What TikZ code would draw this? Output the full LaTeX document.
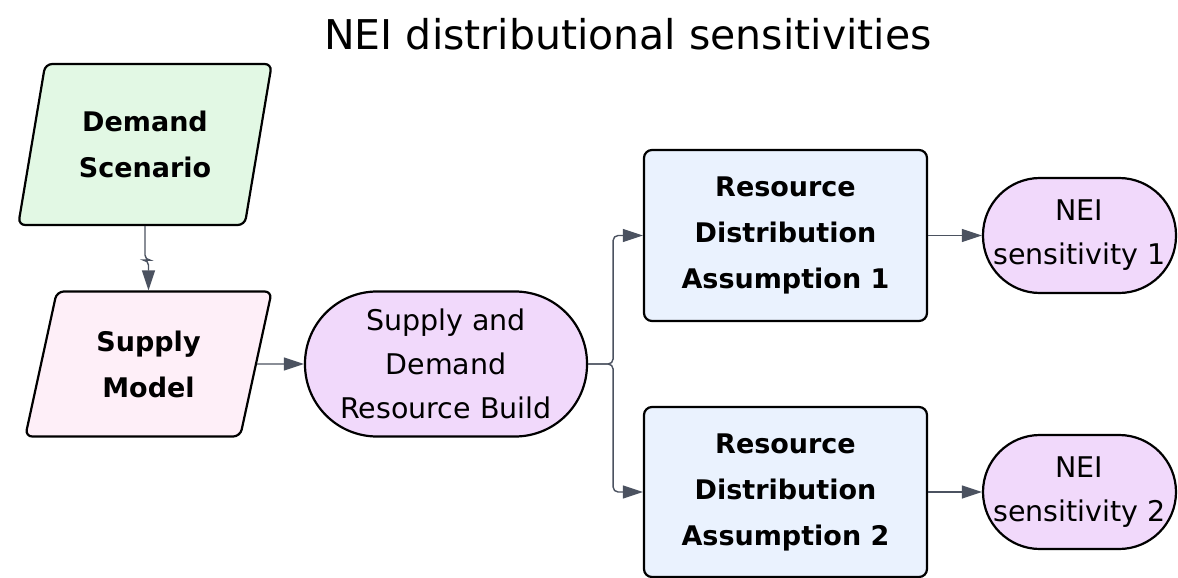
\documentclass[tikz,border=0pt]{standalone}
\usepackage{fontspec}
\setmainfont{DejaVu Sans}
\usetikzlibrary{shapes.geometric,arrows.meta}

\definecolor{scenfill}{HTML}{E2F8E4}
\definecolor{supfill}{HTML}{FEEFF8}
\definecolor{buildfill}{HTML}{F1D9FB}
\definecolor{assfill}{HTML}{EAF2FE}
\definecolor{linkcol}{HTML}{4B5260}

\tikzset{
  base/.style={draw=black, line width=2.2pt, align=center, inner sep=0pt},
  slant/.style={base, trapezium, trapezium left angle=75, trapezium right angle=105,
    trapezium stretches=true, rounded corners=7pt,
    font=\fontsize{27}{46}\selectfont\bfseries},
  pill/.style={base, rectangle, fill=buildfill,
    font=\fontsize{28.5}{44}\selectfont},
  assbox/.style={base, rectangle, rounded corners=8pt, fill=assfill,
    minimum width=283pt, font=\fontsize{27}{46}\selectfont\bfseries},
  link/.style={draw=linkcol, line width=1.4pt, rounded corners=5pt,
    -{Triangle[length=20pt,width=13pt]}}
}

\begin{document}
\begin{tikzpicture}[x=1pt,y=-1pt]
\useasboundingbox (0,0) rectangle (1178,578);

\node[anchor=base,font=\fontsize{41}{48}\selectfont] (title) at (628,50) {NEI distributional sensitivities};

% inputs
\node[slant, fill=scenfill, minimum width=254pt, minimum height=161pt] (ds) at (145,144.5) {Demand\\Scenario};
\node[slant, fill=supfill, minimum width=247pt, minimum height=145pt] (sm) at (148.5,364) {Supply\\Model};

% build
\node[pill, rounded corners=72pt, minimum width=282pt, minimum height=145pt] (sdrb) at (446,364) {Supply and\\Demand\\Resource Build};

% distribution assumptions
\node[assbox, minimum height=171pt] (rd1) at (785.5,235.5) {Resource\\Distribution\\Assumption 1};
\node[assbox, minimum height=170pt] (rd2) at (785.5,492) {Resource\\Distribution\\Assumption 2};

% outputs
\node[pill, rounded corners=57pt, minimum width=193pt, minimum height=115pt] (nei1) at (1079.5,235.5) {NEI\\sensitivity 1};
\node[pill, rounded corners=57pt, minimum width=193pt, minimum height=114pt] (nei2) at (1079.5,492) {NEI\\sensitivity 2};

\draw[link] (ds.south) -- ++(0,34) -| (sm.north);
\draw[link] (sm.east) -- (sdrb.west);
\draw[link] (sdrb.east) -- ++(25,0) |- (rd1.west);
\draw[link] (sdrb.east) -- ++(25,0) |- (rd2.west);
\draw[link] (rd1.east) -- (nei1.west);
\draw[link] (rd2.east) -- (nei2.west);
\end{tikzpicture}
\end{document}
